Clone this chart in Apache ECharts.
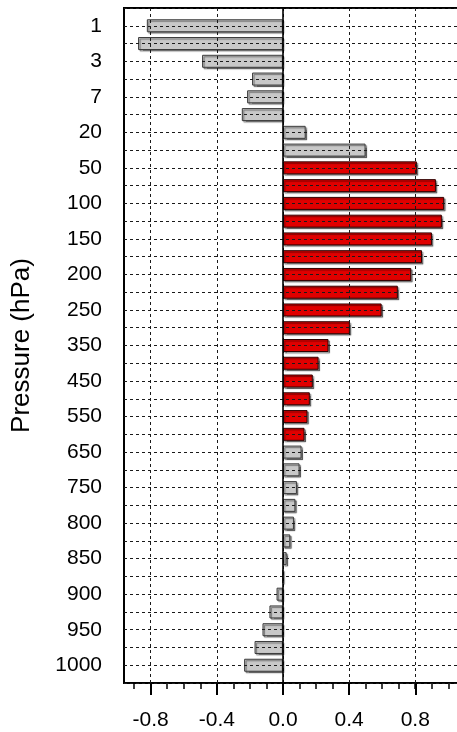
<!DOCTYPE html>
<html>
<head>
<meta charset="utf-8">
<script src="https://cdn.jsdelivr.net/npm/echarts@6/dist/echarts.min.js"></script>
<style>
html,body{margin:0;padding:0;background:#fff;}
#main{width:457px;height:732px;}
</style>
</head>
<body>
<div id="main"></div>
<script>
// ---- data ----
const levels = ['1','2','3','5','7','10','20','30','50','70','100','125','150','175','200','225','250','300','350','400','450','500','550','600','650','700','750','775','800','825','850','875','900','925','950','975','1000'];
const values = [-0.822,-0.875,-0.488,-0.186,-0.216,-0.248,0.138,0.500,0.810,0.925,0.975,0.961,0.901,0.841,0.776,0.695,0.597,0.405,0.276,0.216,0.181,0.163,0.149,0.131,0.113,0.101,0.085,0.076,0.067,0.045,0.023,0.0,-0.038,-0.081,-0.123,-0.171,-0.234];
const significant = [false,false,false,false,false,false,false,false,true,true,true,true,true,true,true,true,true,true,true,true,true,true,true,true,false,false,false,false,false,false,false,false,false,false,false,false,false];
const xTickLabels = ['-0.8','-0.4','0.0','0.4','0.8'];

// ---- chart ----
const chart = echarts.init(document.getElementById('main'));
const cats = [''].concat(levels, ['']);
const barData = [null].concat(values.map((v, i) => ({
  value: v,
  itemStyle: significant[i]
    ? {color: '#e00000', borderColor: '#300000'}
    : {color: '#c8c8c8', borderColor: '#3a3a3a'}
})), [null]);

const font = 'Liberation Sans, Arial, Helvetica, sans-serif';
const dash = {color: '#1a1a1a', width: 1, type: [3, 3]};
const gTop = 8, gBottom = 49, gRight = -24.4;

const option = {
  animation: false,
  backgroundColor: '#fff',
  grid: [
    {left: 124, right: gRight, top: gTop, bottom: gBottom, outerBoundsMode: 'none', containLabel: false, show: true, borderColor: '#000', borderWidth: 2, backgroundColor: 'transparent'},
    {left: 150.7, right: gRight, top: gTop, bottom: gBottom, outerBoundsMode: 'none', containLabel: false},
    {left: 134.1, right: gRight, top: gTop, bottom: gBottom, outerBoundsMode: 'none', containLabel: false}
  ],
  xAxis: [
    {gridIndex: 0, type: 'value', min: -0.96, max: 1.2,
     axisLine: {show: false}, axisTick: {show: false}, axisLabel: {show: false}, splitLine: {show: false}},
    {gridIndex: 1, type: 'value', min: -0.8, max: 1.2, interval: 0.4, z: 5,
     axisLine: {show: false},
     axisTick: {show: true, length: 12, lineStyle: {color: '#000', width: 2}},
     axisLabel: {show: true, margin: 27, fontSize: 21, fontFamily: font, color: '#000',
       formatter: function (v) {
         const s = (Math.abs(v) < 1e-9 ? 0 : v).toFixed(1);
         return xTickLabels.indexOf(s) >= 0 ? s : '';
       }},
     splitLine: {show: true, lineStyle: dash}},
    {gridIndex: 2, type: 'value', min: -0.9, max: 1.2, interval: 0.1,
     axisLine: {show: false},
     axisTick: {show: true, length: 6, lineStyle: {color: '#000', width: 1.5}},
     axisLabel: {show: false}, splitLine: {show: false}}
  ],
  yAxis: [
    {gridIndex: 0, type: 'category', data: cats, inverse: true, boundaryGap: false, z: 5,
     name: 'Pressure (hPa)', nameLocation: 'middle', nameGap: 89, nameRotate: 90,
     nameTextStyle: {fontSize: 26, fontFamily: font, color: '#000'},
     axisLine: {show: false}, axisTick: {show: false},
     axisLabel: {show: true, margin: 22, fontSize: 21, fontFamily: font, color: '#000',
       interval: function (idx) { return idx % 2 === 1; }},
     splitLine: {show: true, interval: 0, lineStyle: dash}},
    {gridIndex: 1, type: 'value', show: false},
    {gridIndex: 2, type: 'value', show: false}
  ],
  series: [{
    type: 'bar', xAxisIndex: 0, yAxisIndex: 0,
    data: barData, barWidth: 13,
    itemStyle: {borderWidth: 1, shadowColor: 'rgba(0,0,0,0.45)', shadowOffsetX: 1.5, shadowOffsetY: 1.5, shadowBlur: 1},
    markLine: {silent: true, symbol: 'none', label: {show: false},
      lineStyle: {color: '#000', width: 1.6, type: 'solid'},
      data: [{xAxis: 0}]}
  }]
};
chart.setOption(option);
</script>
</body>
</html>
